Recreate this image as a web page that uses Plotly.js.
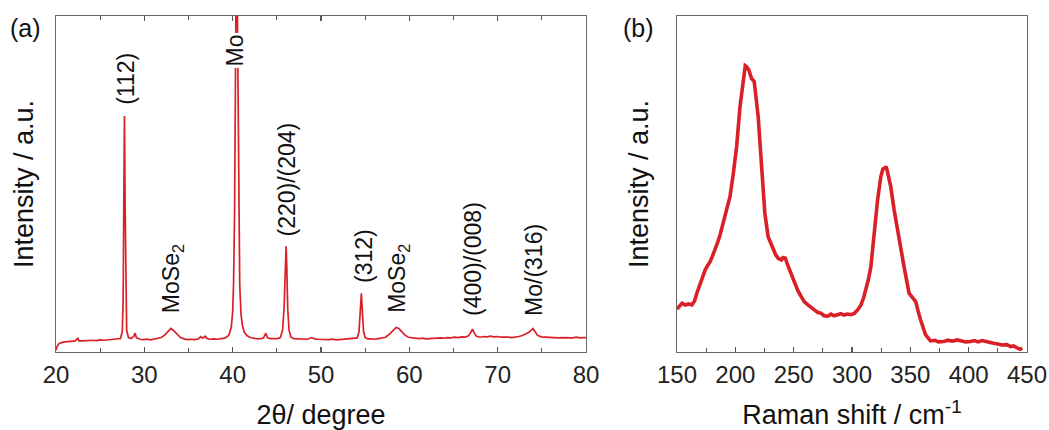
<!DOCTYPE html>
<html>
<head>
<meta charset="utf-8">
<script src="https://cdn.plot.ly/plotly-3.0.1.min.js"></script>
<style>html,body{margin:0;padding:0;background:#fff;}#chart{width:1049px;height:430px;}</style>
</head>
<body>
<div id="chart"></div>
<script>
// ---- Panel (a): XRD pattern ----
const xrdAngle = [20.0,20.1,20.3,20.6,21.0,21.4,21.8,22.2,22.45,22.6,23.0,23.4,23.8,24.2,24.6,25.0,25.4,25.8,26.2,26.6,27.0,27.3,27.5,27.6,27.68,27.75,27.82,27.9,28.0,28.2,28.5,28.8,28.95,29.1,29.5,29.9,30.3,30.7,31.1,31.5,31.9,32.3,32.7,33.0,33.3,33.7,34.1,34.5,34.9,35.3,35.7,36.1,36.4,36.6,36.9,37.1,37.5,37.9,38.3,38.7,39.1,39.4,39.6,39.85,40.0,40.1,40.22,40.36,40.45,40.54,40.68,40.8,40.95,41.1,41.3,41.6,42.0,42.4,42.8,43.2,43.5,43.75,43.95,44.3,44.7,45.1,45.4,45.65,45.82,45.95,46.05,46.13,46.23,46.38,46.6,46.9,47.3,47.7,48.1,48.5,48.9,49.3,49.7,50.1,50.5,50.9,51.3,51.7,52.1,52.5,52.9,53.3,53.7,54.1,54.3,54.45,54.57,54.68,54.82,55.0,55.3,55.7,56.1,56.5,56.9,57.3,57.7,58.1,58.5,58.8,59.1,59.5,59.9,60.3,60.7,61.1,61.5,61.9,62.3,62.7,63.1,63.5,63.9,64.3,64.7,65.1,65.5,65.9,66.3,66.7,66.95,67.15,67.35,67.6,68.0,68.4,68.8,69.2,69.6,70.0,70.4,70.8,71.2,71.6,72.0,72.4,72.8,73.2,73.5,73.8,74.0,74.2,74.5,74.9,75.3,75.7,76.1,76.5,76.9,77.3,77.7,78.1,78.5,78.9,79.3,79.7,80.0];
const xrdIntensity = [0.5,1.5,2.4,2.8,3.0,3.1,3.0,3.3,4.2,3.3,3.3,3.4,3.3,3.5,3.4,3.6,3.5,3.6,3.5,3.7,3.8,4.0,6,15,45,70.2,45,15,6.5,4.3,4.0,4.6,5.6,4.3,3.8,3.7,3.8,3.6,3.8,3.9,4.3,5.0,6.3,7.0,6.4,5.2,4.3,3.9,3.7,3.8,3.7,3.9,4.6,4.1,4.7,4.0,3.8,3.9,3.8,4.0,4.1,4.6,5.2,7.5,12,20,42,100,400,100,42,20,11,8,6,4.9,4.3,4.0,3.9,4.0,4.2,5.6,4.2,4.0,3.9,4.0,4.3,6.5,13,25,31.5,25,13,6.5,4.4,4.0,3.9,3.8,3.9,3.8,4.3,3.9,3.8,3.7,3.8,3.7,3.8,3.6,3.7,3.8,3.7,3.8,3.9,4.2,6,12,17.5,12,6,4.3,3.9,3.9,3.8,4.0,4.1,4.4,5.2,6.3,7.3,7.0,6.0,5.0,4.4,4.2,4.1,4.0,4.1,3.9,4.0,4.1,4.0,4.2,4.1,4.3,4.2,4.4,4.3,4.5,4.4,4.8,5.8,6.8,5.6,4.7,4.4,4.6,4.5,4.7,4.5,4.6,4.4,4.5,4.4,4.3,4.4,4.6,4.9,5.3,5.8,6.5,7.0,6.2,5.0,4.5,4.4,4.3,4.4,4.3,4.2,4.3,4.2,4.3,4.2,4.4,4.2,4.3,4.3];
const xrdLabels = ["(112)","Mo","(220)/(204)","MoSe<sub>2</sub>","(312)","MoSe<sub>2</sub>","(400)/(008)","Mo/(316)"];
const xrdLabelX = [27.9,40.3,46.2,33.2,54.85,58.75,67.2,74.1];
const xrdLabelY = [72.9,84.5,33.9,11.0,19.9,11.0,10.1,10.1];

// ---- Panel (b): Raman spectrum ----
const ramanShift = [150,152,154.3,157,160,162.8,165,167,169.9,172,174.1,176,178.4,180.5,182.6,185,186.9,189,191.2,193,195.4,198.3,201.1,204,206.8,208.5,209.7,211.6,213.9,216.2,219.6,222.4,225.3,228.1,230,232.4,234.5,236.7,239.5,241,242.9,244.5,246.6,250.8,253.5,256.5,259,262.2,265,267.9,270.5,273.6,276,279.3,282,284.5,287.8,290.5,293,296.3,299,302,305,307.7,310,311.9,314,316.2,319,321.9,324.7,326.5,328.1,329.2,330.4,333.2,336.1,340.3,344.6,348.9,351.5,354.6,356.5,358.8,363.1,367.3,371,374,378.7,382,386,390.1,394,397.5,401.4,405,408,411.4,415,418,421.3,425,428.5,432.7,436,438.5,441.2,444,446,448.3,450];
const ramanIntensity = [12.8,13.8,14.5,14.0,14.3,14.0,15.2,17.5,20.4,22.0,24.4,25.6,26.9,28.6,30.4,32.8,34.8,37.8,41.3,43.5,46.2,53.2,61.1,73.0,81.9,85.2,84.9,83.9,81.4,80.5,70.0,55.2,41.3,34.3,32.6,30.4,29.0,27.9,27.4,28.1,27.9,26.2,24.4,20.4,18.3,16.5,15.0,14.0,13.2,12.5,11.8,11.5,10.8,10.7,11.3,10.8,11.0,11.4,11.0,11.3,11.1,11.5,12.6,14.0,16.2,18.5,21.5,25.4,35.3,45.2,52.2,54.5,54.7,55.2,53.7,49.2,42.3,33.3,25.4,17.5,16.2,15.0,12.4,9.5,5.1,3.3,3.5,3.0,3.1,3.5,3.2,3.6,3.3,3.0,3.1,3.4,3.0,3.4,3.1,2.8,2.6,2.4,2.1,2.2,1.6,1.8,1.2,0.8,1.1];

const red = '#da1f26';
const fontFam = 'Liberation Sans, Arial, sans-serif';

const traces = [
  {x: xrdAngle, y: xrdIntensity, type: 'scatter', mode: 'lines', xaxis: 'x', yaxis: 'y',
   line: {color: red, width: 1.7}, hoverinfo: 'skip'},
  {x: ramanShift, y: ramanIntensity, type: 'scatter', mode: 'lines', xaxis: 'x2', yaxis: 'y2',
   line: {color: red, width: 3.6}, hoverinfo: 'skip'}
];

const annotations = xrdLabels.map((t, i) => ({
  text: t, x: xrdLabelX[i], y: xrdLabelY[i], xref: 'x', yref: 'y',
  textangle: -90, xanchor: 'center', yanchor: 'bottom', showarrow: false,
  bgcolor: t === 'Mo' ? '#ffffff' : 'rgba(0,0,0,0)', borderpad: 1,
  font: {family: fontFam, size: 23, color: '#111'}
}));
annotations.push({text: '(a)', x: 8/1049, y: 0.965, xref: 'paper', yref: 'paper', xanchor: 'left', yanchor: 'middle',
  showarrow: false, font: {family: fontFam, size: 25, color: '#111'}});
annotations.push({text: '(b)', x: 621/1049, y: 0.965, xref: 'paper', yref: 'paper', xanchor: 'left', yanchor: 'middle',
  showarrow: false, font: {family: fontFam, size: 25, color: '#111'}});

const frame = {showline: true, linecolor: '#666', linewidth: 1.3, showgrid: false, zeroline: false};
const tickFont = {family: fontFam, size: 24, color: '#222'};
const titleFont = {family: fontFam, size: 27, color: '#111'};

const layout = {
  width: 1049, height: 430,
  margin: {l: 0, r: 0, t: 16, b: 78},
  paper_bgcolor: '#fff', plot_bgcolor: '#fff',
  showlegend: false,
  xaxis: Object.assign({}, frame, {
    domain: [56/1049, 586/1049], range: [20, 80], tick0: 20, dtick: 10,
    ticks: 'inside', ticklen: 5, tickwidth: 1.2, tickcolor: '#555', mirror: 'ticks',
    minor: {dtick: 5, ticks: 'inside', ticklen: 4, tickwidth: 1.2, tickcolor: '#555'},
    tickfont: tickFont, ticklabelstandoff: 1,
    title: {text: '2θ/ degree', font: titleFont, standoff: 19}
  }),
  yaxis: Object.assign({}, frame, {
    range: [0, 100], showticklabels: false, ticks: '', mirror: true,
    title: {text: 'Intensity / a.u.', font: titleFont, standoff: 13}
  }),
  xaxis2: Object.assign({}, frame, {
    domain: [677/1049, 1027/1049], range: [150, 450], tick0: 150, dtick: 50, anchor: 'y2',
    ticks: 'inside', ticklen: 5, tickwidth: 1.2, tickcolor: '#555', mirror: true,
    minor: {dtick: 25, ticks: 'inside', ticklen: 4, tickwidth: 1.2, tickcolor: '#555'},
    tickfont: tickFont, ticklabelstandoff: 1,
    title: {text: 'Raman shift / cm<sup>-1</sup>', font: titleFont, standoff: 19}
  }),
  yaxis2: Object.assign({}, frame, {
    range: [0, 100], anchor: 'x2', showticklabels: false, ticks: '', mirror: true,
    title: {text: 'Intensity / a.u.', font: titleFont, standoff: 19}
  }),
  annotations: annotations
};

Plotly.newPlot('chart', traces, layout, {staticPlot: true, displayModeBar: false});
</script>
</body>
</html>
